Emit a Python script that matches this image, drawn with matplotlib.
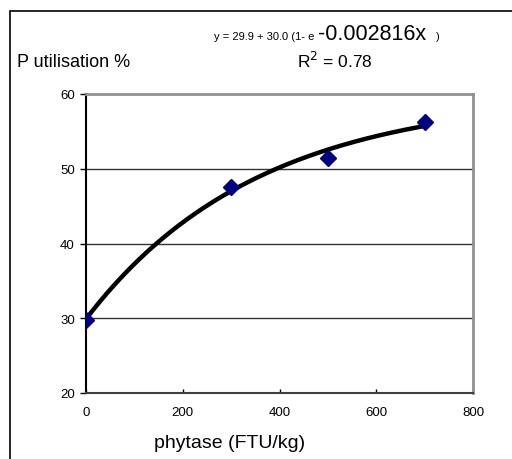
import numpy as np
import matplotlib
matplotlib.use("Agg")
import matplotlib.pyplot as plt
from matplotlib.patches import Rectangle

plt.rcParams["font.family"] = ["Liberation Sans", "DejaVu Sans"]

# data
phytase = [0, 300, 500, 700]
p_util = [29.7, 47.6, 51.4, 56.3]

# trendline coefficients as printed on the chart
fit_a, fit_b, fit_k = 29.9, 30.0, 0.002816
fit_x = np.linspace(0, 700, 200)
fit_y = fit_a + fit_b * (1 - np.exp(-fit_k * fit_x))

x_ticks = [0, 200, 400, 600, 800]
y_ticks = [20, 30, 40, 50, 60]

W, H = 512, 460
fig = plt.figure(figsize=(W / 100, H / 100), dpi=100)
ax = fig.add_axes([86 / W, 1 - 394 / H, (473 - 86) / W, (394 - 95) / H])

# outer chart border
fig.patches.append(Rectangle((10 / W, -0.1), 2, 1 - 12 / H + 0.1, transform=fig.transFigure,
                             fill=False, edgecolor="black", linewidth=1.2))

for yv in [30, 40, 50]:
    ax.axhline(yv, color="#333333", linewidth=1.0, zorder=1)

ax.plot(fit_x, fit_y, color="black", linewidth=3.2, solid_capstyle="round", zorder=2)
ax.plot(phytase, p_util, linestyle="none", marker="D", markersize=8.5,
        color="#000080", zorder=3)

ax.set_xlim(0, 800)
ax.set_ylim(20, 60)
ax.set_xticks(x_ticks)
ax.set_yticks(y_ticks)
ax.tick_params(axis="y", direction="out", length=4, width=1, pad=4, labelsize=9.5)
ax.tick_params(axis="x", direction="in", length=3, width=1, pad=9, labelsize=9.5)

for side in ["top", "right"]:
    ax.spines[side].set_color("#909090")
    ax.spines[side].set_linewidth(2)
ax.spines["left"].set_color("black")
ax.spines["left"].set_linewidth(1.5)
ax.spines["bottom"].set_color("#404040")
ax.spines["bottom"].set_linewidth(1.5)

# texts
def ftext(x, y, s, size):
    fig.text(x / W, 1 - y / H, s, fontsize=size, va="baseline", ha="left")

ftext(17, 67, "P utilisation %", 13)
ftext(214, 40, "y = 29.9 + 30.0 (1- e", 8)
ftext(318, 40, "-0.002816x", 15.5)
ftext(436, 40, ")", 8)
ftext(297, 68, r"R$^2$ = 0.78", 12.5)
fig.text(230 / W, 1 - 448 / H, "phytase (FTU/kg)", fontsize=14, ha="center", va="baseline")

fig.savefig("out.png", dpi=100)
